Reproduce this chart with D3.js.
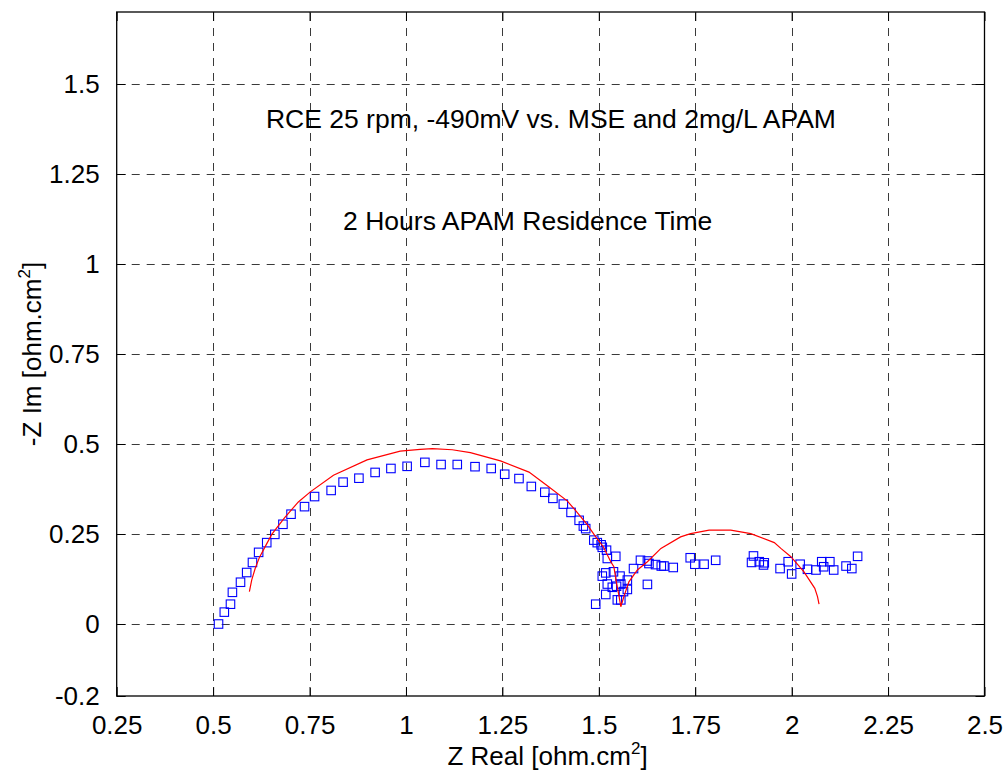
<!DOCTYPE html>
<html>
<head>
<meta charset="utf-8">
<script src="https://cdn.jsdelivr.net/npm/d3@7/dist/d3.min.js"></script>
<style>
  html, body { margin: 0; padding: 0; background: #fff; }
  svg { display: block; }
  text { font-family: "Liberation Sans", Arial, sans-serif; fill: #000; }
</style>
</head>
<body>
<svg id="chart" width="1008" height="774"></svg>
<script>
// ---- data ----
const measuredRe = [0.514,0.529,0.545,0.550,0.571,0.587,0.602,0.618,0.639,0.660,0.681,0.702,0.737,0.763,0.806,0.837,0.878,0.920,0.961,1.003,1.049,1.091,1.133,1.179,1.221,1.256,1.293,1.325,1.360,1.381,1.408,1.428,1.449,1.460,1.466,1.487,1.496,1.506,1.509,1.520,1.522,1.544,1.509,1.518,1.538,1.555,1.522,1.535,1.546,1.557,1.574,1.574,1.564,1.518,1.548,1.557,1.492,1.590,1.608,1.626,1.630,1.626,1.647,1.662,1.669,1.693,1.737,1.749,1.773,1.803,1.901,1.896,1.916,1.929,1.927,1.970,1.991,2.000,2.022,2.041,2.063,2.078,2.083,2.099,2.109,2.141,2.156,2.171];
const measuredIm = [0.000,0.033,0.055,0.088,0.116,0.143,0.171,0.199,0.226,0.249,0.277,0.305,0.326,0.354,0.371,0.394,0.405,0.421,0.432,0.438,0.449,0.443,0.443,0.437,0.432,0.416,0.404,0.382,0.366,0.349,0.333,0.310,0.288,0.272,0.265,0.233,0.226,0.220,0.213,0.205,0.182,0.188,0.133,0.142,0.145,0.133,0.111,0.102,0.105,0.111,0.122,0.096,0.090,0.082,0.067,0.067,0.055,0.154,0.177,0.175,0.168,0.110,0.165,0.161,0.161,0.157,0.184,0.166,0.166,0.177,0.189,0.171,0.173,0.170,0.164,0.154,0.173,0.139,0.166,0.152,0.150,0.173,0.159,0.173,0.150,0.161,0.154,0.188];

const fitRe = [0.594,0.600,0.609,0.620,0.635,0.652,0.685,0.721,0.752,0.812,0.899,0.985,1.037,1.068,1.120,1.167,1.245,1.319,1.370,1.418,1.440,1.457,1.468,1.483,1.492,1.512,1.531,1.539,1.546,1.552,1.557,1.565,1.578,1.600,1.626,1.661,1.712,1.738,1.786,1.842,1.894,1.955,1.972,1.998,2.032,2.060,2.067,2.071];
const fitIm = [0.090,0.122,0.154,0.185,0.215,0.249,0.295,0.339,0.367,0.413,0.456,0.480,0.485,0.487,0.484,0.476,0.453,0.422,0.381,0.342,0.315,0.293,0.279,0.256,0.242,0.214,0.173,0.159,0.113,0.080,0.048,0.076,0.117,0.150,0.173,0.210,0.242,0.251,0.261,0.261,0.251,0.226,0.210,0.187,0.145,0.099,0.076,0.055];

const xTicks = [0.25,0.5,0.75,1,1.25,1.5,1.75,2,2.25,2.5];
const xTickLabels = ["0.25","0.5","0.75","1","1.25","1.5","1.75","2","2.25","2.5"];
const yTicks = [-0.2,0,0.25,0.5,0.75,1,1.25,1.5];
const yTickLabels = ["-0.2","0","0.25","0.5","0.75","1","1.25","1.5"];

const annotations = [
  {text: "RCE 25 rpm, -490mV vs. MSE and 2mg/L APAM", x: 0.637, y: 1.378},
  {text: "2 Hours APAM Residence Time", x: 0.837, y: 1.095}
];

// ---- layout ----
const L = 116.7, R = 984.5, T = 12, B = 696;
const svg = d3.select("#chart");
const x = d3.scaleLinear().domain([0.25, 2.5]).range([L, R]);
const y = d3.scaleLinear().domain([-0.2, 1.7]).range([B, T]);

// grid
const grid = svg.append("g").attr("stroke", "#3a3a3a").attr("stroke-width", 1).attr("stroke-dasharray", "8,7").attr("fill", "none");
xTicks.slice(1, -1).forEach(v => {
  grid.append("line").attr("x1", Math.round(x(v)) + 0.5).attr("x2", Math.round(x(v)) + 0.5).attr("y1", B).attr("y2", T);
});
yTicks.slice(1).forEach(v => {
  grid.append("line").attr("y1", Math.round(y(v)) + 0.5).attr("y2", Math.round(y(v)) + 0.5).attr("x1", L).attr("x2", R);
});

// axes (inward ticks, all four sides)
const tickLen = 9;
const fmtX = (d, i) => xTickLabels[i];
const fmtY = (d, i) => yTickLabels[i];
const xAxisB = d3.axisBottom(x).tickValues(xTicks).tickFormat(fmtX).tickSizeInner(-tickLen).tickSizeOuter(0).tickPadding(tickLen + 11);
const xAxisT = d3.axisTop(x).tickValues(xTicks).tickFormat("").tickSizeInner(-tickLen).tickSizeOuter(0);
const yAxisL = d3.axisLeft(y).tickValues(yTicks).tickFormat(fmtY).tickSizeInner(-tickLen).tickSizeOuter(0).tickPadding(tickLen + 8);
const yAxisR = d3.axisRight(y).tickValues(yTicks).tickFormat("").tickSizeInner(-tickLen).tickSizeOuter(0);

function styleAxis(g) {
  g.select(".domain").remove();
  g.selectAll("line").attr("stroke", "#000");
  g.selectAll("text").attr("font-family", '"Liberation Sans", Arial, sans-serif').attr("font-size", 26).attr("fill", "#000");
}
svg.append("g").attr("transform", `translate(0,${B})`).call(xAxisB).call(styleAxis);
svg.append("g").attr("transform", `translate(0,${T})`).call(xAxisT).call(styleAxis);
svg.append("g").attr("transform", `translate(${L},0)`).call(yAxisL).call(styleAxis);
svg.append("g").attr("transform", `translate(${R},0)`).call(yAxisR).call(styleAxis);

// frame
svg.append("rect").attr("x", L).attr("y", T).attr("width", R - L).attr("height", B - T)
  .attr("fill", "none").attr("stroke", "#000").attr("stroke-width", 1.3);

// clip
svg.append("clipPath").attr("id", "clip").append("rect").attr("x", L).attr("y", T).attr("width", R - L).attr("height", B - T);
const plot = svg.append("g").attr("clip-path", "url(#clip)");

// measured markers (blue open squares)
const ms = 8.5;
plot.append("g").selectAll("rect").data(measuredRe.map((v, i) => [v, measuredIm[i]])).join("rect")
  .attr("x", d => x(d[0]) - ms / 2).attr("y", d => y(d[1]) - ms / 2)
  .attr("width", ms).attr("height", ms)
  .attr("fill", "none").attr("stroke", "#0000ff").attr("stroke-width", 1.1);

// fitted curve (red)
const line = d3.line().x(d => x(d[0])).y(d => y(d[1]));
plot.append("path").datum(fitRe.map((v, i) => [v, fitIm[i]]))
  .attr("d", line).attr("fill", "none").attr("stroke", "#ff0000").attr("stroke-width", 1.2);

// annotations
annotations.forEach(a => {
  svg.append("text").attr("x", x(a.x)).attr("y", y(a.y)).attr("font-size", 26.5).text(a.text);
});

// axis labels
const xl = svg.append("text").attr("x", (L + R) / 2 - 3).attr("y", 765).attr("text-anchor", "middle").attr("font-size", 26);
xl.append("tspan").text("Z Real [ohm.cm");
xl.append("tspan").attr("font-size", 17).attr("dy", -11).text("2");
xl.append("tspan").attr("dy", 11).text("]");

const yl = svg.append("text").attr("transform", `translate(41,${(T + B) / 2}) rotate(-90)`).attr("text-anchor", "middle").attr("font-size", 26);
yl.append("tspan").text("-Z Im [ohm.cm");
yl.append("tspan").attr("font-size", 17).attr("dy", -11).text("2");
yl.append("tspan").attr("dy", 11).text("]");
</script>
</body>
</html>
